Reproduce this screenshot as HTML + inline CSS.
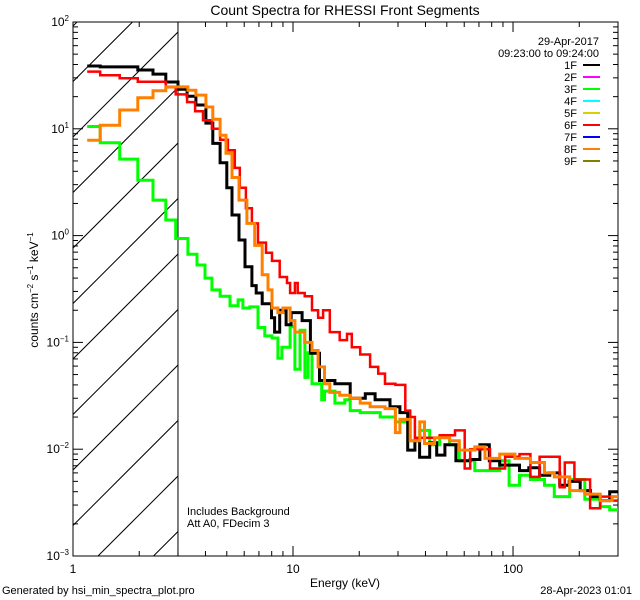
<!DOCTYPE html>
<html><head><meta charset="utf-8"><style>
html,body{margin:0;padding:0;background:#fff;}
svg{display:block;font-family:"Liberation Sans",sans-serif;}
</style></head><body>
<svg id="chart" width="640" height="600" xmlns="http://www.w3.org/2000/svg">
<rect width="640" height="600" fill="#fff"/>
<text x="345" y="15" font-size="14" text-anchor="middle">Count Spectra for RHESSI Front Segments</text>
<g id="hatch"></g>
<g id="axes"></g>
<g id="series"></g>
<g id="legend"></g>
<text x="345" y="587" font-size="12" text-anchor="middle">Energy (keV)</text>
<text transform="translate(38,290) rotate(-90)" font-size="12" text-anchor="middle">counts cm<tspan font-size="8" dy="-5">−2</tspan><tspan dy="5"> s</tspan><tspan font-size="8" dy="-5">−1</tspan><tspan dy="5"> keV</tspan><tspan font-size="8" dy="-5">−1</tspan></text>
<text x="187" y="515" font-size="11">Includes Background</text>
<text x="187" y="527" font-size="11">Att A0, FDecim 3</text>
<text x="2" y="594" font-size="11">Generated by hsi_min_spectra_plot.pro</text>
<text x="632" y="594" font-size="11" text-anchor="end">28-Apr-2023 01:01</text>
<text x="599" y="45" font-size="11" text-anchor="end">29-Apr-2017</text>
<text x="599" y="57" font-size="11" text-anchor="end">09:23:00 to 09:24:00</text>
</svg>
<script>
const xTicks = [1, 10, 100];
const xTickLabels = ["1", "10", "100"];
const yExps = [2, 1, 0, -1, -2, -3];
const legendLabels = ["1F","2F","3F","4F","5F","6F","7F","8F","9F"];
const legendColors = ["#000000","#ff00ff","#00ff00","#00ffff","#d8d000","#ff0000","#0000ff","#ff8000","#808000"];

const e1F = [1.16,1.33,1.97,2.31,2.64,3.0,3.3,3.62,4.02,4.32,4.66,5.0,5.28,5.68,6.05,6.5,6.8,7.24,7.98,8.25,8.7,9.3,9.8,11,12,13.2,15.5,18.2,21.3,23.6,27.6,30.6,33.2,35.8,37.6,41.8,45,49,55,63.9,70.7,78,87,97,107,118,132,147,163,180,202,225,249,275];
const v1F = [38.7,38,35.5,32.5,27.4,23.5,20.2,16.7,11.3,7.3,4.8,2.8,1.56,0.91,0.51,0.34,0.29,0.23,0.17,0.125,0.2,0.146,0.19,0.16,0.079,0.044,0.041,0.03,0.033,0.029,0.025,0.022,0.0098,0.012,0.0084,0.0115,0.0088,0.011,0.0078,0.008,0.011,0.0078,0.0071,0.0071,0.0063,0.0067,0.0057,0.006,0.0046,0.005,0.0041,0.0036,0.0033,0.004];

const e3F = [1.16,1.33,1.63,1.97,2.31,2.64,2.93,3.33,3.66,3.98,4.28,4.66,5.17,5.63,5.92,6.37,6.93,7.44,8.03,8.54,8.9,9.7,10.2,10.76,11.33,11.7,12.2,13.5,13.9,15.5,17.2,18.2,20.2,22.4,24.9,27.6,29.2,32.4,34.1,37.7,41.8,46.4,51.5,57,67,78.6,87,96,107,120,139,154,181,212,249,275];
const v3F = [10.5,7.4,5.2,3.3,2.15,1.4,0.94,0.67,0.53,0.4,0.31,0.27,0.22,0.25,0.21,0.215,0.138,0.115,0.11,0.071,0.09,0.14,0.056,0.13,0.047,0.08,0.041,0.029,0.035,0.027,0.029,0.023,0.022,0.022,0.02,0.02,0.018,0.019,0.012,0.015,0.011,0.013,0.011,0.0078,0.0063,0.0063,0.0078,0.0046,0.0057,0.0052,0.0046,0.0036,0.0052,0.0034,0.0029,0.0027];

const e6F = [1.16,1.33,1.63,1.97,2.64,2.93,3.3,3.59,3.9,4.28,4.66,5.06,5.44,5.73,6.11,6.5,6.93,7.54,8.03,8.7,9.39,9.7,10.2,10.5,11.3,12.2,13,13.7,14.7,16.3,17.6,18.5,20.2,22.4,24.4,26.2,29.2,32.4,34.1,35.8,46.4,54.5,60.3,63.9,70.7,78.6,92,107,120,132,163,172,190,224,249,282];
const v6F = [34.3,31.7,29.8,27.6,24.5,21,17.8,14.6,12,10,7.9,6.3,4.3,2.8,1.8,1.3,0.86,0.69,0.58,0.41,0.36,0.29,0.36,0.29,0.27,0.2,0.17,0.2,0.125,0.105,0.12,0.09,0.077,0.059,0.051,0.041,0.04,0.023,0.02,0.0128,0.0135,0.015,0.0066,0.01,0.01,0.0066,0.0085,0.009,0.0055,0.0085,0.0044,0.0075,0.0052,0.0028,0.0036,0.0033];

const e8F = [1.16,1.33,1.63,1.97,2.31,2.64,3.33,3.62,4.02,4.32,4.66,4.96,5.28,5.68,6.17,6.7,7.24,7.7,8.03,8.54,9.0,9.7,10.2,11.3,12.2,13.0,13.9,14.7,16.3,18.2,20.2,22.4,26.2,29.2,30.6,34.1,37.7,39.6,44,51.5,57,67,74.6,87,102,120,139,154,181,212,249,282];
const v8F = [7.8,10.8,15,19.5,22.7,24.7,23,20.7,16,12.3,8.7,5.9,3.5,2.15,1.3,0.81,0.43,0.31,0.21,0.19,0.21,0.16,0.125,0.1,0.084,0.059,0.041,0.034,0.032,0.03,0.027,0.025,0.024,0.0143,0.019,0.012,0.018,0.0113,0.0128,0.012,0.0098,0.0105,0.0082,0.009,0.0082,0.0075,0.006,0.0055,0.0041,0.0038,0.0033,0.0036];

const NS = "http://www.w3.org/2000/svg";
const X0 = 73, X1 = 618, Y0 = 22, Y1 = 556;
const xMin = 1, xMax = 300, yMinExp = -3, yMaxExp = 2;
function xs(e){ return X0 + (X1 - X0) * Math.log10(e / xMin) / Math.log10(xMax / xMin); }
function ys(v){ return Y1 - (Y1 - Y0) * (Math.log10(v) - yMinExp) / (yMaxExp - yMinExp); }
function mk(tag, attrs, parent){ const el = document.createElementNS(NS, tag); for (const k in attrs) el.setAttribute(k, attrs[k]); parent.appendChild(el); return el; }

// hatch
const hatch = document.getElementById('hatch');
const defs = mk('defs', {}, hatch);
const cp = mk('clipPath', {id: 'hc'}, defs);
mk('rect', {x: X0, y: Y0, width: xs(3) - X0, height: Y1 - Y0}, cp);
const hg = mk('g', {'clip-path': 'url(#hc)'}, hatch);
for (let c = 654 - 55.5 * 12; c < 900; c += 55.5) {
  const ln = mk('line', {x1: c - Y1, y1: Y1, x2: c - Y0 + 200, y2: Y0 - 200, stroke: '#000', 'stroke-width': 1}, hg);
  
  
}
const vl = mk('line', {x1: xs(3), y1: Y0, x2: xs(3), y2: Y1, stroke: '#000', 'stroke-width': 1}, hatch);



// axes
const ax = document.getElementById('axes');
const frame = mk('rect', {x: X0, y: Y0, width: X1 - X0, height: Y1 - Y0, fill: 'none', stroke: '#000', 'stroke-width': 1}, ax);


for (let d = 1; d <= 100; d *= 10) {
  for (let m = 1; m <= 9; m++) {
    const e = d * m; if (e > xMax) break;
    const x = xs(e), L = m === 1 ? 10 : 5;
    const t1 = mk('line', {x1: x, y1: Y1, x2: x, y2: Y1 - L, stroke: '#000'}, ax);
    
    
    const t2 = mk('line', {x1: x, y1: Y0, x2: x, y2: Y0 + L, stroke: '#000'}, ax);
    
    
  }
}
xTicks.forEach((t, i) => {
  const tx = mk('text', {x: xs(t), y: Y1 + 17, 'font-size': 12, 'text-anchor': 'middle'}, ax);
  tx.textContent = xTickLabels[i];
  
  
});
for (let p = yMinExp; p <= yMaxExp; p++) {
  for (let m = 1; m <= 9; m++) {
    if (p === yMaxExp && m > 1) break;
    const y = ys(m * Math.pow(10, p)), L = m === 1 ? 10 : 5;
    const t1 = mk('line', {x1: X0, y1: y, x2: X0 + L, y2: y, stroke: '#000'}, ax);
    
    
    const t2 = mk('line', {x1: X1, y1: y, x2: X1 - L, y2: y, stroke: '#000'}, ax);
    
    
  }
}
yExps.forEach(p => {
  const tx = mk('text', {x: X0 - 4, y: ys(Math.pow(10, p)) + 4, 'font-size': 12, 'text-anchor': 'end'}, ax);
  
  
  const a = mk('tspan', {}, tx); a.textContent = '10';
  const b = mk('tspan', {'font-size': 8, dy: -5}, tx); b.textContent = p < 0 ? '−' + (-p) : String(p);
});

// series
const sg = document.getElementById('series');
function draw(E, V, color, w, name){
  let d = '';
  for (let i = 0; i < E.length; i++) {
    const xa = xs(E[i]), xb = xs(i + 1 < E.length ? E[i + 1] : xMax), y = ys(V[i]);
    d += (i === 0 ? 'M' : 'L') + xa.toFixed(1) + ' ' + y.toFixed(1) + 'L' + xb.toFixed(1) + ' ' + y.toFixed(1);
  }
  const p = mk('path', {d: d, fill: 'none', stroke: color, 'stroke-width': w, 'stroke-linejoin': 'miter'}, sg);
  
  
}
draw(e3F, v3F, '#00ff00', 3, 'series-3f');
draw(e1F, v1F, '#000000', 3, 'series-1f');
draw(e6F, v6F, '#ff0000', 2.5, 'series-6f');
draw(e8F, v8F, '#ff8000', 3, 'series-8f');

// legend
const lg = document.getElementById('legend');
legendLabels.forEach((lab, i) => {
  const y = 65 + i * 12;
  const t = mk('text', {x: 577, y: y + 4, 'font-size': 11, 'text-anchor': 'end'}, lg);
  t.textContent = lab;
  
  
  const l = mk('line', {x1: 583, y1: y, x2: 600, y2: y, stroke: legendColors[i], 'stroke-width': 2}, lg);
  
  
});
</script>
</body></html>
